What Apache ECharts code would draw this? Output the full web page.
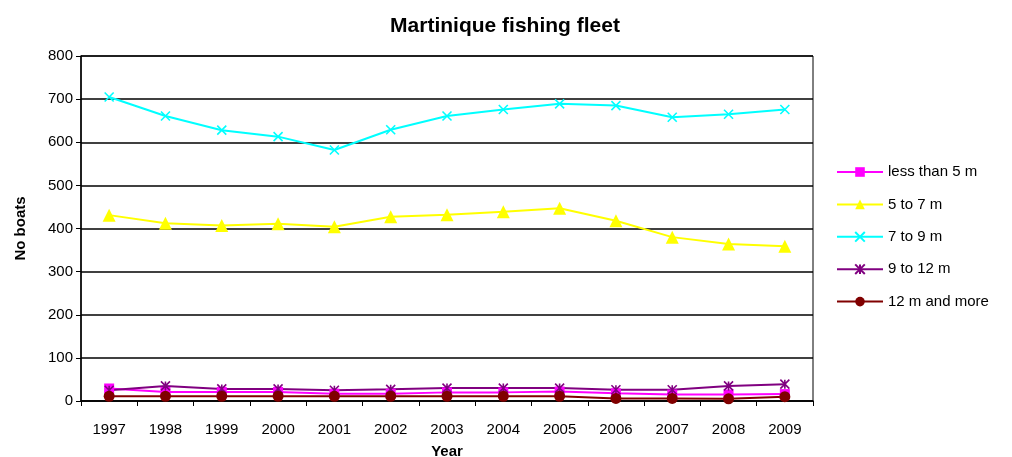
<!DOCTYPE html>
<html>
<head>
<meta charset="utf-8">
<script src="https://cdn.jsdelivr.net/npm/echarts@6/dist/echarts.min.js"></script>
<style>
  html, body { margin: 0; padding: 0; background: #fff; }
  #chart { width: 1012px; height: 457px; }
</style>
</head>
<body>
<div id="chart"></div>
<script>
// Fleet size by boat length, Martinique
const years = ['1997','1998','1999','2000','2001','2002','2003','2004','2005','2006','2007','2008','2009'];
const lessThan5 = [29, 21, 21, 21, 17, 17, 20, 20, 22, 18, 15, 15, 16];
const from5to7 = [431, 412, 407, 411, 404, 427, 432, 439, 447, 418, 380, 364, 359];
const from7to9 = [705, 661, 628, 613, 582, 629, 661, 676, 689, 685, 658, 665, 676];
const from9to12 = [25, 35, 28, 28, 25, 27, 30, 30, 30, 26, 26, 35, 39];
const over12 = [11, 11, 11, 11, 11, 11, 11, 11, 11, 6, 6, 5, 10];
const seriesNames = ['less than 5 m', '5 to 7 m', '7 to 9 m', '9 to 12 m', '12 m and more'];

const FONT = 'Liberation Sans, Arial, sans-serif';
const crossPath = 'path://M0,0L10,10M10,0L0,10';
const starPath = 'path://M5,0L5,10M0,0L10,10M10,0L0,10';

function lineSeries(name, data, color, symbol, size, strokeOnly) {
  return {
    name: name,
    type: 'line',
    data: data,
    symbol: symbol,
    symbolSize: size,
    showAllSymbol: true,
    lineStyle: { color: color, width: 2 },
    itemStyle: strokeOnly
      ? { color: 'none', borderColor: color, borderWidth: 1.6 }
      : { color: color, borderWidth: 0 },
    emphasis: { disabled: true },
    animation: false
  };
}

const chart = echarts.init(document.getElementById('chart'));
chart.setOption({
  backgroundColor: '#fff',
  animation: false,
  title: {
    text: 'Martinique fishing fleet',
    left: 500, top: 11, textAlign: 'center',
    textStyle: { fontFamily: FONT, fontSize: 21, fontWeight: 'bold', color: '#000' }
  },
  grid: {
    left: 81, right: 199, top: 56, bottom: 56,
    outerBoundsMode: 'none',
    containLabel: false,
    show: true, borderColor: '#000', borderWidth: 1
  },
  legend: {
    orient: 'vertical',
    left: 831, top: 159,
    itemWidth: 46, itemHeight: 12, itemGap: 16.4,
    data: seriesNames,
    textStyle: { fontFamily: FONT, fontSize: 15, lineHeight: 16, color: '#000' }
  },
  xAxis: {
    type: 'category',
    data: years,
    boundaryGap: true,
    name: 'Year',
    nameLocation: 'middle',
    nameGap: 43,
    nameTextStyle: { fontFamily: FONT, fontSize: 15, fontWeight: 'bold', color: '#000' },
    axisLine: { lineStyle: { color: '#000', width: 1.5 } },
    axisTick: { show: true, length: 5, lineStyle: { color: '#000' } },
    axisLabel: { fontFamily: FONT, fontSize: 15, color: '#000', margin: 21, interval: 0 },
    splitLine: { show: false }
  },
  yAxis: {
    type: 'value',
    min: 0, max: 800, interval: 100,
    name: 'No boats',
    nameLocation: 'middle',
    nameGap: 53,
    nameTextStyle: { fontFamily: FONT, fontSize: 15, fontWeight: 'bold', color: '#000' },
    axisLine: { show: true, lineStyle: { color: '#000', width: 1.5 } },
    axisTick: { show: true, length: 5, lineStyle: { color: '#000' } },
    axisLabel: { fontFamily: FONT, fontSize: 15, color: '#000', margin: 8 },
    splitLine: { show: true, lineStyle: { color: '#000', width: 1.5 } }
  },
  series: [
    lineSeries(seriesNames[0], lessThan5, '#ff00ff', 'rect', 10, false),
    lineSeries(seriesNames[1], from5to7, '#ffff00', 'triangle', 13, false),
    lineSeries(seriesNames[2], from7to9, '#00ffff', crossPath, 9, true),
    lineSeries(seriesNames[3], from9to12, '#800080', starPath, 9, true),
    lineSeries(seriesNames[4], over12, '#800000', 'circle', 11, false)
  ]
});
</script>
</body>
</html>
